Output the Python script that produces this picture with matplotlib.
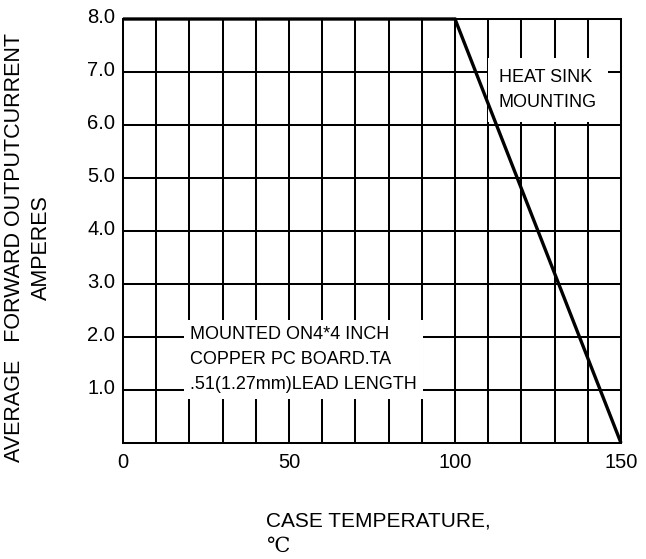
"""Forward current derating curve: average forward output current vs case temperature."""
import matplotlib
matplotlib.use("Agg")
import matplotlib.pyplot as plt
import matplotlib.transforms as mtransforms

plt.rcParams["font.family"] = ["Liberation Sans", "DejaVu Sans"]

# derating curve (case temperature in degC -> current in A)
temp_c = [0, 100, 150]
current_a = [8.0, 8.0, 0.0]

x_ticks = [0, 50, 100, 150]
x_grid = list(range(0, 151, 10))
y_ticks = [1, 2, 3, 4, 5, 6, 7, 8]
y_ticklabels = ["1.0", "2.0", "3.0", "4.0", "5.0", "6.0", "7.0", "8.0"]

note_heat_sink = "HEAT SINK\nMOUNTING"
note_pc_board = "MOUNTED ON4*4 INCH\nCOPPER PC BOARD.TA\n.51(1.27mm)LEAD LENGTH"

fig = plt.figure(figsize=(6.46, 5.59), dpi=100)
ax = fig.add_axes([0.1904, 0.2075, 0.7709, 0.7585])

ax.plot(temp_c, current_a, color="black", lw=2.4, zorder=5, clip_on=False,
        solid_capstyle="butt", solid_joinstyle="miter")

ax.set_xlim(0, 150)
ax.set_ylim(0, 8)
ax.set_xticks(x_ticks)
ax.set_xticks(x_grid, minor=True)
ax.set_yticks(y_ticks)
ax.set_yticklabels(y_ticklabels)
ax.grid(True, which="both", color="black", lw=1.45)
ax.set_axisbelow(True)
for sp in ax.spines.values():
    sp.set_linewidth(1.45)
ax.tick_params(which="both", length=0)
ax.tick_params(axis="x", labelsize=14.5, pad=7.5)
ax.tick_params(axis="y", labelsize=14.5, pad=5.5)

# y tick labels sit a little above their gridlines in the original
shift = mtransforms.ScaledTranslation(0, 4 / 100, fig.dpi_scale_trans)
for lbl in ax.get_yticklabels():
    lbl.set_transform(lbl.get_transform() + shift)

# va="baseline" pins the last line's baseline
ax.text(113.25, 6.34, note_heat_sink, fontsize=13, ha="left", va="baseline",
        linespacing=1.6, zorder=4,
        bbox=dict(boxstyle="square,pad=0.6", facecolor="white", edgecolor="none"))
ax.text(20.2, 1.02, note_pc_board, fontsize=13, ha="left", va="baseline",
        linespacing=1.6, zorder=4,
        bbox=dict(boxstyle="square,pad=0.35", facecolor="white", edgecolor="none"))

fig.text(0.0433, 0.558, "AVERAGE   FORWARD OUTPUTCURRENT\nAMPERES", rotation=90,
         fontsize=15.5, ha="center", va="center", multialignment="center",
         linespacing=1.4)
fig.text(0.4118, 0.059, "CASE TEMPERATURE,", fontsize=15, ha="left", va="baseline")
fig.text(0.4118, 0.0125, "℃", fontsize=15, ha="left", va="baseline",
         family=["DejaVu Serif", "Noto Sans CJK SC", "DejaVu Sans"])

fig.savefig("out.png", dpi=100)
